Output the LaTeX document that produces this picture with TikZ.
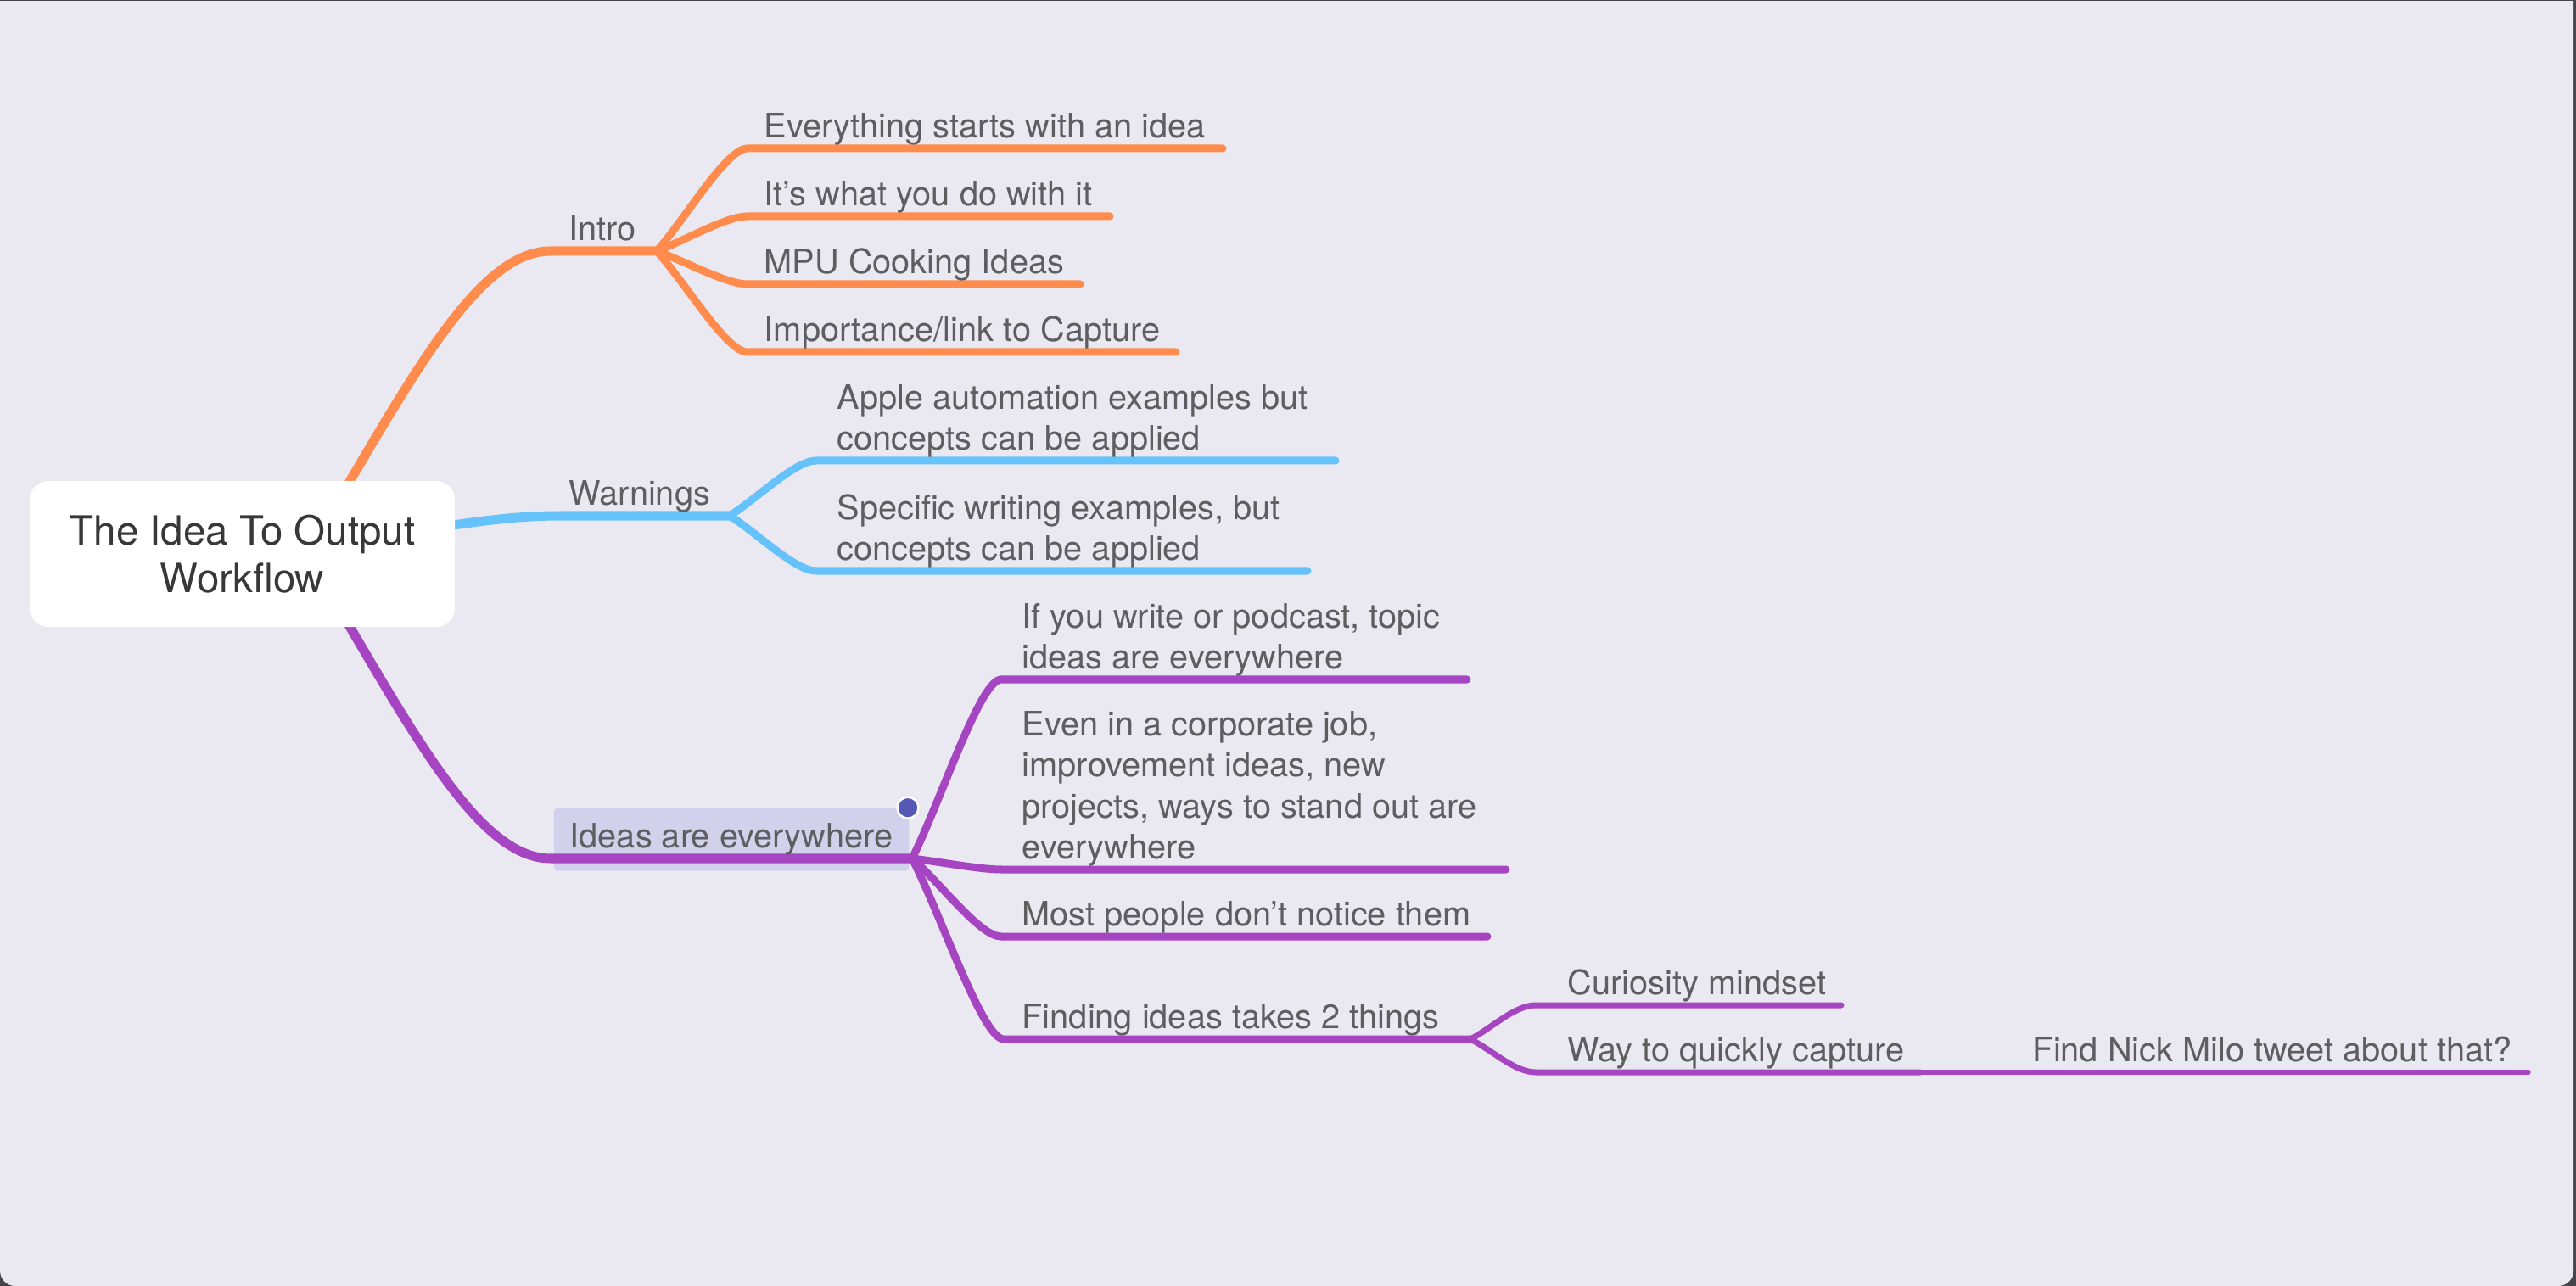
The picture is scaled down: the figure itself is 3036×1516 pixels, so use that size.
\documentclass[tikz,border=0pt]{standalone}
\usepackage{fontspec}
\setmainfont{TeX Gyre Heros}
\usetikzlibrary{calc, positioning, backgrounds, fit}
\definecolor{mnorange}{HTML}{FF8C4D}
\definecolor{mnblue}{HTML}{66C2FA}
\definecolor{mnpurple}{HTML}{A545C1}
\definecolor{mnback}{HTML}{EAE8F0}
\definecolor{mnframe}{HTML}{46464A}
\definecolor{mntext}{HTML}{5E5E60}
\definecolor{mnselect}{HTML}{D2D1EC}
\definecolor{mndot}{HTML}{5559B5}

\begin{document}
\begin{tikzpicture}[
    x=0.01cm, y=-0.01cm,
    central/.style={rectangle, rounded corners=0.22cm, fill=white, minimum width=5.01cm, minimum height=1.72cm, align=center, text=black!78, font=\fontsize{13.5}{15.9}\selectfont},
    leaf/.style={anchor=south west, inner sep=0pt, yshift=-0.035cm, align=left, text=mntext, font=\fontsize{11.3}{13.7}\selectfont, execute at end node=\strut},
    obranch/.style={draw=mnorange, line cap=round},
    bbranch/.style={draw=mnblue, line cap=round},
    pbranch/.style={draw=mnpurple, line cap=round},
    lvl1/.style={line width=0.11cm},
    lvl2/.style={line width=0.09cm},
    lvl3/.style={line width=0.07cm},
    lvl4/.style={line width=0.055cm},
    twig/.style={to path={.. controls ($(\tikztostart)!0.33!(\tikztotarget)$) and ($(\tikztotarget)+(-25,0)$) .. (\tikztotarget) \tikztonodes}},
    selbox/.style={rectangle, rounded corners=0.04cm, fill=mnselect, inner xsep=0.18cm, inner ysep=0.12cm},
    seldot/.style={circle, fill=mndot, draw=white, line width=0.025cm, minimum size=0.25cm, inner sep=0pt}
]
\useasboundingbox (0,0) rectangle (3036,1516);

\node[central] (root) at (285.5,653) {The Idea To Output\\Workflow};

% intro
\node[leaf] (intro) at (670,295) {Intro};
\node[leaf] (everything) at (900,174) {Everything starts with an idea};
\node[leaf] (whatyoudo) at (900,254) {It’s what you do with it};
\node[leaf] (mpu) at (900,334) {MPU Cooking Ideas};
\node[leaf] (capture) at (900,414) {Importance/link to Capture};

% warnings
\node[leaf] (warnings) at (670,607) {Warnings};
\node[leaf] (apple) at (986,542) {Apple automation examples but\\concepts can be applied};
\node[leaf] (writing) at (986,672) {Specific writing examples, but\\concepts can be applied};

% ideas
\node[leaf] (ideas) at (671,1011) {Ideas are everywhere};
\node[leaf] (podcast) at (1204,800) {If you write or podcast, topic\\ideas are everywhere};
\node[leaf] (corporate) at (1204,1024) {Even in a corporate job,\\improvement ideas, new\\projects, ways to stand out are\\everywhere};
\node[leaf] (notice) at (1204,1103) {Most people don’t notice them};
\node[leaf] (finding) at (1204,1224) {Finding ideas takes 2 things};
\node[leaf] (curiosity) at (1847,1184) {Curiosity mindset};
\node[leaf] (quickcap) at (1847,1263) {Way to quickly capture};
\node[leaf, anchor=south east] (nickmilo) at (2961,1263) {Find Nick Milo tweet about that?};

\coordinate (intro-s) at (649,296);      \coordinate (intro-j) at (774,296);
\coordinate (everything-s) at (881,175); \coordinate (everything-e) at (1441,175);
\coordinate (whatyoudo-s) at (881,255);  \coordinate (whatyoudo-e) at (1308,255);
\coordinate (mpu-s) at (881,335);        \coordinate (mpu-e) at (1273,335);
\coordinate (capture-s) at (881,415);    \coordinate (capture-e) at (1386,415);
\coordinate (warnings-s) at (660,608);   \coordinate (warnings-j) at (860,608);
\coordinate (apple-s) at (962,543);      \coordinate (apple-e) at (1574,543);
\coordinate (writing-s) at (962,673);    \coordinate (writing-e) at (1541,673);
\coordinate (ideas-s) at (649,1012);     \coordinate (ideas-j) at (1075,1012);
\coordinate (podcast-s) at (1180,801);   \coordinate (podcast-e) at (1729,801);
\coordinate (corporate-s) at (1180,1025); \coordinate (corporate-e) at (1775,1025);
\coordinate (notice-s) at (1180,1104);   \coordinate (notice-e) at (1753,1104);
\coordinate (finding-s) at (1183,1225);  \coordinate (finding-j) at (1733,1225);
\coordinate (curiosity-s) at (1810,1185); \coordinate (curiosity-e) at (2170,1185);
\coordinate (quickcap-s) at (1810,1264); \coordinate (quickcap-e) at (2263,1264);
\coordinate (nickmilo-e) at (2980,1264);

\begin{scope}[on background layer]
    \fill[mnframe] (0,0) rectangle (3036,1516);
    \begin{scope}
        \clip (0,2) rectangle (3033,1516);
        \fill[mnback, rounded corners=0.18cm] (0,-40) rectangle (3033,1516);
    \end{scope}
    \node[selbox, fit=(ideas)] (sel) {};

    \draw[obranch, lvl1] ($(root.center)+(75,2)$) .. controls (480,455) and (560,296) .. (intro-s) -- (intro-j);
    \draw[obranch, lvl2] (intro-j) to[twig] (everything-s) -- (everything-e);
    \draw[obranch, lvl2] (intro-j) to[twig] (whatyoudo-s) -- (whatyoudo-e);
    \draw[obranch, lvl2] (intro-j) to[twig] (mpu-s) -- (mpu-e);
    \draw[obranch, lvl2] (intro-j) to[twig] (capture-s) -- (capture-e);

    \draw[bbranch, lvl1] (root.center) .. controls (500,628) and (570,608) .. (warnings-s) -- (warnings-j);
    \draw[bbranch, lvl2] (warnings-j) to[twig] (apple-s) -- (apple-e);
    \draw[bbranch, lvl2] (warnings-j) to[twig] (writing-s) -- (writing-e);

    \draw[pbranch, lvl1] ($(root.center)+(75,-2)$) .. controls (480,851) and (560,1012) .. (ideas-s) -- (ideas-j);
    \draw[pbranch, lvl2] (ideas-j) to[twig] (podcast-s) -- (podcast-e);
    \draw[pbranch, lvl2] (ideas-j) to[twig] (corporate-s) -- (corporate-e);
    \draw[pbranch, lvl2] (ideas-j) to[twig] (notice-s) -- (notice-e);
    \draw[pbranch, lvl2] (ideas-j) to[twig] (finding-s) -- (finding-j);
    \draw[pbranch, lvl3] (finding-j) to[twig] (curiosity-s) -- (curiosity-e);
    \draw[pbranch, lvl3] (finding-j) to[twig] (quickcap-s) -- (quickcap-e);
    \draw[pbranch, lvl4] (quickcap-e) -- (nickmilo-e);
\end{scope}

\node[seldot] (dot) at ([xshift=-0.02cm]sel.north east) {};
\end{tikzpicture}
\end{document}
